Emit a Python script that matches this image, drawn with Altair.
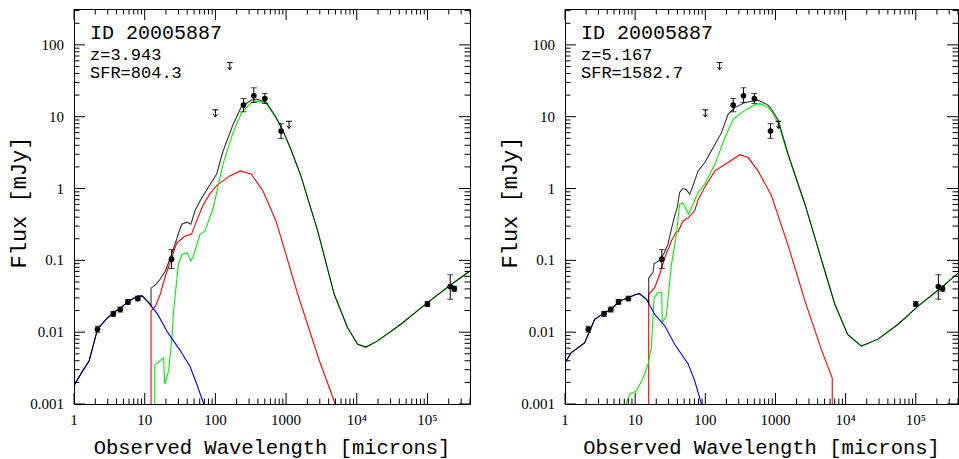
import altair as alt
import pandas as pd

# ---------------- data ----------------
# observed photometry (same source in both panels)
obs_wl = [2.15, 3.6, 4.5, 5.8, 8.0, 24, 250, 350, 500, 850, 1.0e5, 2.1e5, 2.4e5]
obs_f = [0.011, 0.018, 0.0207, 0.0264, 0.0294, 0.104, 14.5, 19.6, 17.9, 6.3, 0.0247, 0.0432, 0.0404]
obs_lo = [0.0100, 0.0166, 0.0191, 0.0245, 0.0273, 0.077, 11.7, 15.8, 15.3, 5.0, 0.0228, 0.0287, 0.0372]
obs_hi = [0.0121, 0.0195, 0.0224, 0.0285, 0.0317, 0.141, 17.9, 25.3, 21.1, 8.0, 0.0268, 0.063, 0.0438]

# upper limits
lim_wl = [100, 160, 1100]
lim_f = [11.1, 50.5, 7.7]

# ---- left panel (z = 3.943) model curves ----
L_black_wl = [1.0, 1.3, 1.64, 2.15, 2.8, 3.6, 4.5, 5.8, 7.8, 9.2, 11.4, 12.3, 12.3, 14.6, 16.6, 19.6, 23,
              28.5, 31, 33.5, 39.6, 45, 51.5, 60.6, 84, 104, 128, 178, 235, 323, 380, 524, 720, 900, 1160,
              1620, 2800, 4800, 7400, 10300, 13500, 19500, 42000, 1.0e5, 2.1e5, 4.0e5]
L_black_f = [0.0018, 0.0028, 0.004, 0.011, 0.0148, 0.0187, 0.0215, 0.0266, 0.0316, 0.032, 0.0258, 0.023,
             0.041, 0.0466, 0.055, 0.071, 0.108, 0.2, 0.26, 0.318, 0.34, 0.318, 0.49, 0.67, 1.14, 1.58, 3.3,
             7.8, 14.0, 17.0, 17.6, 15.9, 9.9, 6.5, 3.6, 1.5, 0.257, 0.0337, 0.0116, 0.0068, 0.0062, 0.0075,
             0.0129, 0.0258, 0.045, 0.071]
L_red_wl = [12.3, 12.3, 14.2, 16.6, 19.6, 23, 28.5, 37.5, 46, 54.6, 67.6, 84, 104, 160, 226, 323, 470, 720,
            900, 1460, 2960, 4800, 5500]
L_red_f = [1e-4, 0.0197, 0.023, 0.0337, 0.0606, 0.095, 0.176, 0.218, 0.232, 0.36, 0.6, 0.85, 1.1, 1.5, 1.76,
           1.58, 0.93, 0.354, 0.17, 0.034, 0.004, 0.0011, 0.0007]
L_green_wl = [13.9, 13.9, 18.5, 19.2, 21.8, 24.3, 25.6, 30, 33.5, 39.6, 45, 49, 60.6, 71.4, 93.4, 128, 178,
              235, 323, 400, 524, 720, 900, 1160, 1620, 2800, 4800, 7400, 10300, 13500, 19500, 42000, 1.0e5,
              2.1e5, 4.0e5]
L_green_f = [1e-4, 0.0035, 0.0044, 0.0019, 0.0029, 0.0084, 0.0197, 0.088, 0.121, 0.128, 0.098, 0.115, 0.23,
             0.257, 0.54, 2.17, 6.0, 11.4, 15.7, 16.6, 15.2, 9.6, 6.4, 3.55, 1.5, 0.257, 0.0337, 0.0116,
             0.0068, 0.0062, 0.0075, 0.0129, 0.0258, 0.045, 0.071]
L_blue_wl = [1.0, 1.3, 1.64, 2.15, 2.8, 3.6, 4.5, 5.8, 7.8, 9.2, 11.4, 15.3, 21, 23, 32, 44, 54.6, 67.5, 75]
L_blue_f = [0.0018, 0.0028, 0.004, 0.011, 0.0148, 0.0187, 0.0215, 0.0266, 0.0316, 0.032, 0.0258, 0.0177,
            0.010, 0.0088, 0.0055, 0.0033, 0.00188, 0.00104, 0.0008]

# ---- right panel (z = 5.167) model curves ----
R_black_wl = [1.0, 1.23, 1.9, 2.25, 2.65, 3.68, 4.58, 6.0, 8.1, 10.4, 11.6, 14.5, 15.6, 15.6, 18, 18.6, 22.4,
              25.8, 29.4, 32.8, 36.6, 39.9, 43, 48, 53.5, 60, 66.5, 79, 98.5, 129, 170, 211, 264, 366, 565,
              785, 875, 1090, 1520, 2640, 4580, 7020, 10700, 16800, 29000, 56000, 1.09e5, 2.3e5, 4.0e5]
R_black_f = [0.00376, 0.0052, 0.0071, 0.0104, 0.0151, 0.0187, 0.0208, 0.0272, 0.0303, 0.0337, 0.0343, 0.0287,
             0.026, 0.057, 0.068, 0.09, 0.1, 0.125, 0.168, 0.27, 0.42, 0.55, 0.88, 1.0, 0.97, 0.83, 1.09,
             1.76, 2.3, 3.7, 6.0, 10.8, 13.4, 15.8, 17.0, 14.5, 12.8, 9.0, 3.0, 0.6, 0.098, 0.0245, 0.0093,
             0.0064, 0.008, 0.0129, 0.0232, 0.0416, 0.066]
R_red_wl = [15.6, 15.6, 19, 22.4, 26.5, 32.8, 38.7, 41, 48, 57, 70.7, 79, 98.5, 137, 211, 310, 408, 565, 875,
            1520, 2640, 4580, 6450, 6450]
R_red_f = [1e-4, 0.0337, 0.0417, 0.064, 0.109, 0.186, 0.25, 0.25, 0.354, 0.39, 0.49, 0.7, 1.05, 1.76, 2.3,
           2.96, 2.7, 1.76, 0.8, 0.16, 0.027, 0.0055, 0.0023, 1e-4]
R_green_wl = [7.1, 8.4, 10.4, 13, 15.3, 17, 18.6, 21.2, 24.0, 24.3, 27.8, 32.8, 38.7, 43, 48, 58, 66.5, 79,
              98.5, 137, 190, 250, 326, 510, 595, 785, 875, 1090, 1520, 2640, 4580, 7020, 10700, 16800,
              29000, 56000, 1.09e5, 2.3e5, 4.0e5]
R_green_f = [0.0009, 0.00137, 0.00152, 0.0023, 0.0036, 0.0061, 0.03, 0.0356, 0.0356, 0.0136, 0.0167, 0.085,
             0.23, 0.6, 0.63, 0.44, 0.6, 0.88, 1.16, 2.17, 5.1, 9.2, 11.4, 14.8, 15.2, 13.6, 12.0, 8.2, 2.85,
             0.6, 0.098, 0.0245, 0.0093, 0.0064, 0.008, 0.0129, 0.0232, 0.0416, 0.066]
R_blue_wl = [1.0, 1.23, 1.9, 2.25, 2.65, 3.68, 4.58, 6.0, 8.1, 10.4, 11.6, 14.5, 19, 26.5, 36.6, 57, 70.7, 88, 95]
R_blue_f = [0.00376, 0.0052, 0.0071, 0.0104, 0.0151, 0.0187, 0.0208, 0.0272, 0.0303, 0.0337, 0.0343, 0.0287,
            0.0177, 0.0122, 0.0068, 0.0036, 0.0021, 0.001, 0.0008]

# panel annotations
L_text = ["ID 20005887", "z=3.943", "SFR=804.3"]
R_text = ["ID 20005887", "z=5.167", "SFR=1582.7"]

# axes
x_title = "Observed Wavelength [microns]"
y_title = "Flux [mJy]"
x_domain = [1, 4.0e5]
y_domain = [0.001, 316]
x_major = [1, 10, 100, 1000, 1e4, 1e5]
x_labels = ["1", "10", "100", "1000", "10⁴", "10⁵"]
y_major = [0.001, 0.01, 0.1, 1, 10, 100]
y_labels = ["0.001", "0.01", "0.1", "1", "10", "100"]
minor_mult = [2, 3, 4, 5, 6, 7, 8, 9]

x_minor = [m * v for v in x_major for m in minor_mult if m * v <= x_domain[1]]
y_minor = [m * v for v in y_major for m in minor_mult if m * v <= y_domain[1]]

SERIF = "Liberation Serif"
MONO = "Liberation Mono"
H = 395
MAJOR_LEN = 11
MINOR_LEN = 5.5

xs = alt.Scale(type="log", domain=x_domain, nice=False)
ys = alt.Scale(type="log", domain=y_domain, nice=False)


def X(field):
    return alt.X(field, scale=xs, axis=None)


def Y(field):
    return alt.Y(field, scale=ys, axis=None)


def lines_df(series):
    rows = []
    for name, wl, f in series:
        for i, (a, b) in enumerate(zip(wl, f)):
            rows.append({"wl": a, "f": b, "s": name, "i": i})
    return pd.DataFrame(rows)


obs = pd.DataFrame({"wl": obs_wl, "f": obs_f, "lo": obs_lo, "hi": obs_hi})
lims = pd.DataFrame({"wl": lim_wl, "f": lim_f})

ARROW = "M -0.8 -1 L 0.8 -1 M 0 -1 L 0 1 M -0.55 0.25 L 0 1 L 0.55 0.25"


def tick_layers(W):
    """Inward ticks on all four sides, placed through the log scales."""
    layers = []
    for vals, ln in [(x_major, MAJOR_LEN), (x_minor, MINOR_LEN)]:
        d = alt.Chart(pd.DataFrame({"v": vals}))
        layers.append(d.mark_rule(color="black", strokeWidth=1).encode(
            x=X("v:Q"), y=alt.value(H), y2=alt.value(H - ln)))
        layers.append(d.mark_rule(color="black", strokeWidth=1).encode(
            x=X("v:Q"), y=alt.value(0), y2=alt.value(ln)))
    for vals, ln in [(y_major, MAJOR_LEN), (y_minor, MINOR_LEN)]:
        d = alt.Chart(pd.DataFrame({"v": vals}))
        layers.append(d.mark_rule(color="black", strokeWidth=1).encode(
            y=Y("v:Q"), x=alt.value(0), x2=alt.value(ln)))
        layers.append(d.mark_rule(color="black", strokeWidth=1).encode(
            y=Y("v:Q"), x=alt.value(W), x2=alt.value(W - ln)))
    return layers


def label_layers(W):
    """Tick labels and axis titles as text, tick labels placed through the scales."""
    xl = alt.Chart(pd.DataFrame({"v": x_major, "lab": x_labels})).mark_text(
        font=SERIF, fontSize=15, align="center", baseline="middle", color="black"
    ).encode(x=X("v:Q"), y=alt.value(H + 16), text="lab:N")
    yl = alt.Chart(pd.DataFrame({"v": y_major, "lab": y_labels})).mark_text(
        font=SERIF, fontSize=15, align="right", baseline="middle", color="black"
    ).encode(y=Y("v:Q"), x=alt.value(-10), text="lab:N")
    xt = alt.Chart(pd.DataFrame({"t": [x_title]})).mark_text(
        font=MONO, fontSize=20.5, align="center", baseline="middle", color="black"
    ).encode(x=alt.value(W / 2), y=alt.value(H + 44), text="t:N")
    yt = alt.Chart(pd.DataFrame({"t": [y_title]})).mark_text(
        font=MONO, fontSize=22, align="center", baseline="middle", angle=270, color="black"
    ).encode(x=alt.value(-55), y=alt.value(H / 2 - 4), text="t:N")
    return [xl, yl, xt, yt]


def panel(bw, bf, rw, rf, gw, gf, blw, blf, texts, W):
    col = lines_df([("red", rw, rf), ("green", gw, gf), ("blue", blw, blf)])
    blk = lines_df([("black", bw, bf)])

    colored = alt.Chart(col).mark_line(clip=True, strokeWidth=1.1).encode(
        x=X("wl:Q"), y=Y("f:Q"),
        color=alt.Color("s:N", scale=alt.Scale(domain=["red", "green", "blue"],
                                               range=["#ff0000", "#00f000", "#0000ff"]), legend=None),
        detail="s:N",
        order=alt.Order("i:Q"),
    )
    black = alt.Chart(blk).mark_line(clip=True, strokeWidth=1.1, color="black", strokeOpacity=0.8).encode(
        x=X("wl:Q"), y=Y("f:Q"), order=alt.Order("i:Q"),
    )
    ebase = alt.Chart(obs)
    err = ebase.mark_rule(color="black", strokeWidth=1).encode(x=X("wl:Q"), y=Y("lo:Q"), y2="hi:Q")
    cap_lo = ebase.mark_tick(color="black", orient="horizontal", size=6, thickness=1).encode(
        x=X("wl:Q"), y=Y("lo:Q"))
    cap_hi = ebase.mark_tick(color="black", orient="horizontal", size=6, thickness=1).encode(
        x=X("wl:Q"), y=Y("hi:Q"))
    pts = ebase.mark_circle(color="black", size=32, opacity=1).encode(x=X("wl:Q"), y=Y("f:Q"))
    ul = alt.Chart(lims).mark_point(shape=ARROW, filled=False, color="black", strokeWidth=1,
                                    size=52, opacity=1).encode(x=X("wl:Q"), y=Y("f:Q"))

    t_layers = []
    for txt, yy, fs in zip(texts, [30, 50.5, 69], [20, 17, 17]):
        t_layers.append(
            alt.Chart(pd.DataFrame({"t": [txt]})).mark_text(
                align="left", baseline="alphabetic", font=MONO, fontSize=fs, color="black"
            ).encode(x=alt.value(16), y=alt.value(yy), text="t:N")
        )

    return alt.layer(colored, black, err, cap_lo, cap_hi, pts, ul, *tick_layers(W), *label_layers(W),
                     *t_layers).properties(width=W, height=H)


left = panel(L_black_wl, L_black_f, L_red_wl, L_red_f, L_green_wl, L_green_f, L_blue_wl, L_blue_f, L_text, 396)
right = panel(R_black_wl, R_black_f, R_red_wl, R_red_f, R_green_wl, R_green_f, R_blue_wl, R_blue_f, R_text, 393)

chart = alt.hconcat(left, right, spacing=27).properties(
    padding={"left": 7, "top": 8, "right": 0, "bottom": 0},
    background="white",
).configure_view(stroke="black", strokeWidth=1)

chart.save("out.html", embed_options={"renderer": "svg", "actions": False})
